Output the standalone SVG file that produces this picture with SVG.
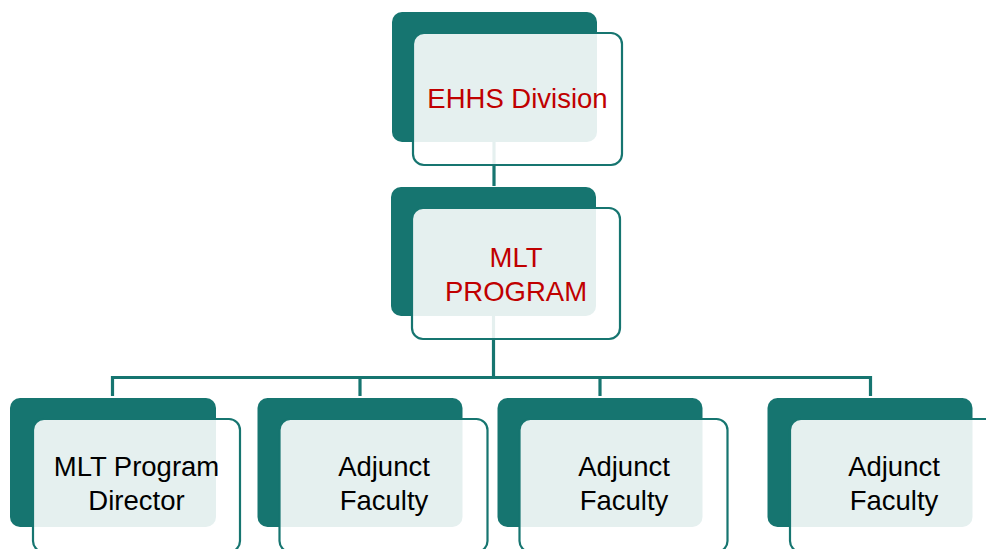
<svg xmlns="http://www.w3.org/2000/svg" width="986" height="549" viewBox="0 0 986 549">
<style>
.back{fill:#167570}
.front{fill:#ffffff;fill-opacity:0.89;stroke:#167570;stroke-width:2.2}
.conn{fill:none;stroke:#167570;stroke-width:3.2}
.lbl{font-family:"Liberation Sans",Arial,sans-serif;font-size:27.5px;text-anchor:middle}
.red{fill:#c00000}
.blk{fill:#000000}
</style>
<rect width="986" height="549" fill="#ffffff"/>
<g id="connectors">
<line class="conn" x1="494" y1="141" x2="494" y2="186"/>
<line class="conn" x1="493.5" y1="316" x2="493.5" y2="378"/>
<polyline class="conn" points="112.5,396 112.5,377.5 870.5,377.5 870.5,396"/>
<line class="conn" x1="360" y1="377.5" x2="360" y2="396"/>
<line class="conn" x1="600" y1="377.5" x2="600" y2="396"/>
</g>
<g id="ehhs">
<rect class="back" x="392" y="12" width="205" height="130" rx="10"/>
<rect class="front" x="413" y="33" width="209" height="132" rx="11"/>
<text class="lbl red" x="517.5" y="108">EHHS Division</text>
</g>
<g id="mlt-program">
<rect class="back" x="391" y="187" width="205" height="129" rx="10"/>
<rect class="front" x="412" y="208" width="208" height="131" rx="11"/>
<text class="lbl red" x="516" y="267">MLT</text>
<text class="lbl red" x="516" y="301">PROGRAM</text>
</g>
<g id="director">
<rect class="back" x="10" y="398" width="206" height="129" rx="10"/>
<rect class="front" x="33" y="419" width="207" height="133" rx="11"/>
<text class="lbl blk" x="136.5" y="476">MLT Program</text>
<text class="lbl blk" x="136.5" y="510">Director</text>
</g>
<g id="adjunct1">
<rect class="back" x="257.5" y="398" width="205" height="129" rx="10"/>
<rect class="front" x="279.5" y="419" width="208" height="133" rx="11"/>
<text class="lbl blk" x="384" y="476">Adjunct</text>
<text class="lbl blk" x="384" y="510">Faculty</text>
</g>
<g id="adjunct2">
<rect class="back" x="497.5" y="398" width="205" height="129" rx="10"/>
<rect class="front" x="519.5" y="419" width="208" height="133" rx="11"/>
<text class="lbl blk" x="624" y="476">Adjunct</text>
<text class="lbl blk" x="624" y="510">Faculty</text>
</g>
<g id="adjunct3">
<rect class="back" x="767.5" y="398" width="205" height="129" rx="10"/>
<rect class="front" x="790" y="419" width="208" height="133" rx="11"/>
<text class="lbl blk" x="894" y="476">Adjunct</text>
<text class="lbl blk" x="894" y="510">Faculty</text>
</g>
</svg>
